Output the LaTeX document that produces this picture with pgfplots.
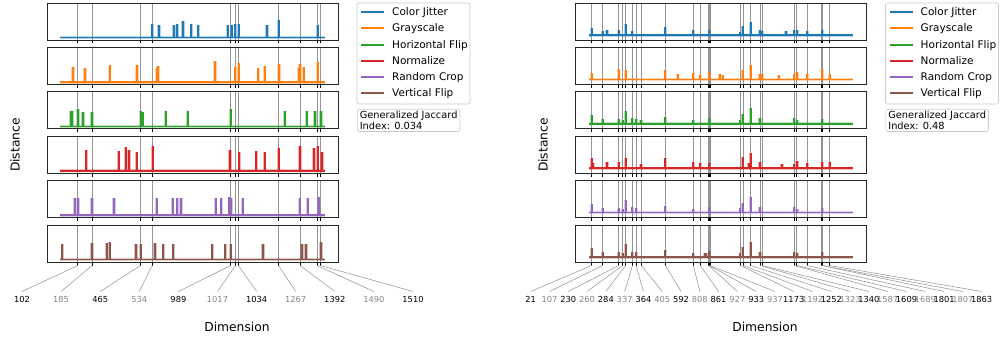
\documentclass[border=0pt]{standalone}
\usepackage{pgfplots}
\pgfplotsset{compat=1.18}
\usepackage{fontspec}
\setmainfont{DejaVu Sans}
\definecolor{cCJ}{RGB}{31,119,180}
\definecolor{cGS}{RGB}{255,127,14}
\definecolor{cHF}{RGB}{44,160,44}
\definecolor{cNO}{RGB}{214,39,40}
\definecolor{cRC}{RGB}{148,103,189}
\definecolor{cVF}{RGB}{140,86,75}
\pgfplotsset{
  rowbase/.style={width=291pt,height=37pt,scale only axis,anchor=north west,
    ytick=\empty, xticklabels={}, xtick pos=left, tick align=outside,
    major tick length=3.5pt, xtick style={black,line width=0.8pt},
    xmajorgrids, major grid style={black!42,line width=0.8pt},
    axis line style={black!85,line width=0.8pt}},
  rowL/.style={rowbase, xmin=-76.75, xmax=1611.75, ymin=-0.07, ymax=1.05,
    xtick={102,185,465,534,989,1017,1034,1267,1392,1490,1510}},
  rowR/.style={rowbase, xmin=-102.35, xmax=2149.35, ymin=-0.15, ymax=0.97,
    xtick={21,107,230,260,284,337,364,405,592,808,861,927,933,937,1173,1192,1252,1323,1340,1587,1609,1689,1801,1807,1863}},
}
% #1 style, #2 x, #3 top, #4 color, #5 length, #6 coords, #7 extra content
\newcommand\drawrow[7]{%
\begin{axis}[#1, at={(#2pt,-#3pt)}]
\addplot[#4, line width=3pt, opacity=0.3] coordinates {(0,0) (#5,0)};
\addplot[#4, line width=1.6pt] coordinates {(0,0) (#5,0)};
\addplot[#4, ycomb, line width=3.4pt, opacity=0.35] coordinates {#6};
\addplot[#4, ycomb, line width=2pt] coordinates {#6};
#7
\end{axis}}
% legend drawn at (#1 left, top=3)
\newcommand\mylegend[1]{%
\draw[black!20, rounded corners=2pt, line width=0.7pt, fill=white] (#1,-3) rectangle ++(113,-101);
\foreach \c/\t/\yy in {cCJ/Color Jitter/12, cGS/Grayscale/28, cHF/Horizontal Flip/45, cNO/Normalize/61, cRC/Random Crop/77, cVF/Vertical Flip/93}{
  \draw[color=\c, line width=2pt] (#1+4,-\yy) -- ++(23,0);
  \node[anchor=base west, inner sep=0pt, font=\fontsize{10.5}{12.6}\selectfont] at (#1+35,-\yy-3.8) {\t};
}}
\begin{document}
\begin{tikzpicture}[x=1pt,y=1pt]
\path[use as bounding box] (0,0) rectangle (1003,-339);
% ---------------- LEFT PANEL ----------------
\drawrow{rowL}{47}{3}{cCJ}{1535}{(534,0.42) (572,0.37) (659,0.39) (680,0.40) (713,0.51) (761,0.40) (802,0.37) (972,0.37) (995,0.38) (1016,0.40) (1035,0.41) (1200,0.37) (1267,0.54) (1493,0.38)}{}
\drawrow{rowL}{47}{47.4}{cGS}{1535}{(75,0.47) (144,0.44) (287,0.51) (445,0.53) (559,0.42) (567,0.48) (898,0.63) (1016,0.45) (1035,0.59) (1149,0.43) (1186,0.50) (1269,0.56) (1383,0.44) (1392,0.54) (1412,0.45) (1493,0.61)}{}
\drawrow{rowL}{47}{91.8}{cHF}{1535}{(61,0.47) (71,0.46) (104,0.52) (133,0.45) (185,0.45) (466,0.47) (478,0.45) (611,0.46) (740,0.46) (989,0.53) (1302,0.47) (1429,0.48) (1479,0.46) (1514,0.46)}{}
\drawrow{rowL}{47}{136.2}{cNO}{1535}{(152,0.64) (339,0.59) (380,0.73) (399,0.63) (443,0.58) (536,0.76) (985,0.62) (1039,0.57) (1138,0.59) (1186,0.58) (1267,0.68) (1392,0.74) (1473,0.70) (1493,0.76) (1518,0.58)}{}
\drawrow{rowL}{47}{180.6}{cRC}{1535}{(86,0.52) (104,0.52) (185,0.53) (312,0.53) (559,0.53) (653,0.51) (680,0.52) (700,0.52) (902,0.51) (935,0.51) (981,0.55) (991,0.52) (1059,0.53) (1390,0.51) (1435,0.52) (1499,0.54)}{}
\drawrow{rowL}{47}{225}{cVF}{1535}{(13,0.49) (185,0.51) (272,0.51) (287,0.54) (440,0.48) (466,0.49) (549,0.51) (598,0.47) (656,0.47) (882,0.48) (958,0.49) (989,0.46) (1176,0.49) (1404,0.48) (1427,0.49) (1512,0.54)}{\pgfplotsinvokeforeach{102,185,465,534,989,1017,1034,1267,1392,1490,1510}{\coordinate (TL#1) at (axis cs:#1,-0.07);}}
\foreach \d [count=\i from 0] in {102,185,465,534,989,1017,1034,1267,1392,1490,1510} {
  \pgfmathsetmacro\lx{22+39.1*\i}
  \ifodd\i\def\tc{black!48}\else\def\tc{black}\fi
  \draw[black!38, line width=0.6pt] ([yshift=-3.5pt]TL\d) -- (\lx,-291.5);
  \node[anchor=base, text=\tc, font=\fontsize{8.3}{10}\selectfont, inner sep=0pt] at (\lx,-302) {\d};
}
\mylegend{357}
\node[draw=black!20, line width=0.7pt, rounded corners=2pt, align=left, anchor=north west, font=\fontsize{9.8}{11.6}\selectfont, inner xsep=2.5pt, inner ysep=1.5pt] at (357,-109) {Generalized Jaccard\\Index: 0.034};
\node[rotate=90, font=\fontsize{12.3}{14}\selectfont] at (15,-145) {Distance};
\node[font=\fontsize{12.3}{14}\selectfont] at (237,-327) {Dimension};
% ---------------- RIGHT PANEL ----------------
\drawrow{rowR}{575.7}{3}{cCJ}{2047}{(21,0.21) (106,0.11) (139,0.15) (229,0.14) (284,0.32) (337,0.12) (592,0.23) (808,0.14) (932,0.14) (1171,0.10) (1189,0.27) (1251,0.39) (1323,0.14) (1340,0.11) (1526,0.13) (1590,0.14) (1611,0.14) (1690,0.11) (1805,0.15)}{}
\drawrow{rowR}{575.7}{47.4}{cGS}{2047}{(21,0.21) (229,0.32) (284,0.30) (592,0.30) (687,0.15) (808,0.19) (862,0.14) (932,0.22) (1014,0.16) (1035,0.13) (1189,0.29) (1251,0.43) (1323,0.15) (1340,0.16) (1467,0.13) (1590,0.16) (1611,0.23) (1690,0.17) (1805,0.31) (1863,0.16)}{}
\drawrow{rowR}{575.7}{91.8}{cHF}{2047}{(21,0.26) (106,0.14) (229,0.15) (260,0.12) (284,0.38) (337,0.17) (366,0.15) (404,0.11) (592,0.22) (808,0.12) (932,0.17) (1171,0.13) (1189,0.31) (1251,0.47) (1323,0.17) (1590,0.18) (1611,0.12) (1805,0.15)}{}
\drawrow{rowR}{575.7}{136.2}{cNO}{2047}{(21,0.31) (34,0.16) (139,0.19) (229,0.20) (284,0.31) (404,0.14) (592,0.31) (808,0.18) (862,0.16) (932,0.17) (1189,0.35) (1238,0.17) (1251,0.45) (1323,0.18) (1495,0.14) (1590,0.14) (1611,0.23) (1690,0.17) (1805,0.20) (1863,0.18)}{}
\drawrow{rowR}{575.7}{180.6}{cRC}{2047}{(21,0.27) (106,0.15) (229,0.15) (260,0.11) (284,0.39) (337,0.17) (366,0.15) (592,0.20) (808,0.11) (932,0.16) (1171,0.13) (1189,0.30) (1251,0.48) (1323,0.18) (1590,0.16) (1611,0.11) (1805,0.15)}{}
\drawrow{rowR}{575.7}{225}{cVF}{2047}{(21,0.27) (106,0.14) (229,0.15) (260,0.11) (284,0.39) (337,0.16) (366,0.15) (592,0.21) (808,0.11) (898,0.11) (906,0.13) (932,0.17) (1171,0.12) (1189,0.31) (1251,0.46) (1323,0.15) (1590,0.15) (1611,0.11) (1805,0.14)}{\pgfplotsinvokeforeach{21,107,230,260,284,337,364,405,592,808,861,927,933,937,1173,1192,1252,1323,1340,1587,1609,1689,1801,1807,1863}{\coordinate (TR#1) at (axis cs:#1,-0.15);}}
\foreach \d [count=\i from 0] in {21,107,230,260,284,337,364,405,592,808,861,927,933,937,1173,1192,1252,1323,1340,1587,1609,1689,1801,1807,1863} {
  \pgfmathsetmacro\lx{530.7+18.79*\i}
  \ifodd\i\def\tc{black!48}\else\def\tc{black}\fi
  \draw[black!38, line width=0.6pt] ([yshift=-3.5pt]TR\d) -- (\lx,-291.5);
  \node[anchor=base, text=\tc, font=\fontsize{8.3}{10}\selectfont, inner sep=0pt] at (\lx,-302) {\d};
}
\mylegend{885.5}
\node[draw=black!20, line width=0.7pt, rounded corners=2pt, align=left, anchor=north west, font=\fontsize{9.8}{11.6}\selectfont, inner xsep=2.5pt, inner ysep=1.5pt] at (885.5,-109) {Generalized Jaccard\\Index: 0.48};
\node[rotate=90, font=\fontsize{12.3}{14}\selectfont] at (543,-145) {Distance};
\node[font=\fontsize{12.3}{14}\selectfont] at (765,-327) {Dimension};
\end{tikzpicture}
\end{document}
